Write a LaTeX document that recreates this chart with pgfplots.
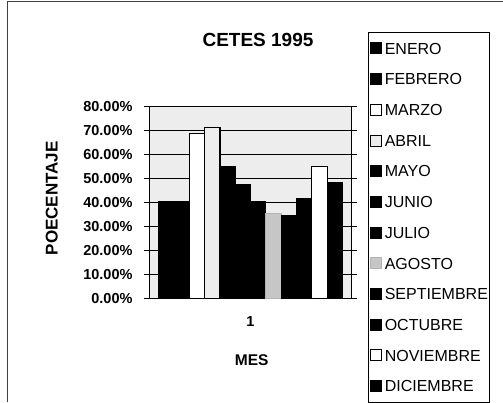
\documentclass[border=0pt]{standalone}
\usepackage{pgfplots}
\pgfplotsset{compat=1.18}
\usepackage{fontspec}
\setmainfont{Liberation Sans}
\begin{document}
\begin{tikzpicture}
\path[use as bounding box] (0pt,0pt) rectangle (503pt,-402pt);
\draw[black!75, line width=1pt] (7pt,-402pt) -- (7pt,-1.5pt) -- (503pt,-1.5pt);
\begin{axis}[
  at={(149.3pt,-298.3pt)}, anchor=south west,
  width=202.4pt, height=191.6pt, scale only axis,
  xmin=0, xmax=2, ymin=0, ymax=80,
  ybar=0pt, bar width=15.3pt,
  axis line style={line width=1pt},
  axis background/.style={fill=gray!14},
  ytick={0,10,...,80},
  yticklabels={0.00\%,10.00\%,20.00\%,30.00\%,40.00\%,50.00\%,60.00\%,70.00\%,80.00\%},
  ymajorgrids, major grid style={black, line width=0.8pt},
  tick align=outside, major tick length=5pt,
  tick style={black, line width=0.8pt},
  xtick={1}, xticklabels={1},
  xtick style={draw=none},
  extra x ticks={0,2}, extra x tick labels={},
  extra x tick style={tick style={draw=black}},
  ticklabel style={font=\bfseries\fontsize{14.5}{14.5}\selectfont},
  yticklabel style={inner sep=0pt, xshift=-11.6pt},
  xticklabel style={inner sep=0pt, yshift=-13pt},
  title={CETES 1995},
  title style={at={(axis description cs:0.537,1.3194)}, anchor=center, inner sep=0pt, font=\bfseries\fontsize{19}{19}\selectfont},
  ylabel={POECENTAJE},
  ylabel style={at={(axis description cs:-0.482,0.522)}, anchor=center, inner sep=0pt, font=\bfseries\fontsize{17}{17}\selectfont},
  xlabel={MES},
  xlabel style={at={(axis description cs:0.506,-0.322)}, anchor=center, inner sep=0pt, font=\bfseries\fontsize{15.5}{15.5}\selectfont},
  legend image code/.code={\draw[#1, line width=0.8pt] (0pt,-5.5pt) rectangle (11pt,5.5pt);},
  legend cell align=left,
  legend style={at={(axis description cs:1.0805,1.390)}, anchor=north west,
    draw=black, line width=1pt, inner xsep=2pt, inner ysep=10pt,
    row sep=18.9pt,
    font=\fontsize{16}{16}\selectfont,
    nodes={inner sep=0pt, text height=11.5pt, text depth=0pt},
    /tikz/every odd column/.append style={column sep=2.5pt}},
]
\addplot[fill=black, draw=black, line width=1pt] coordinates {(1,40.3)};
\addlegendentry{ENERO}
\addplot[fill=black, draw=black, line width=1pt] coordinates {(1,40.3)};
\addlegendentry{FEBRERO}
\addplot[fill=white, draw=black, line width=1pt] coordinates {(1,68.9)};
\addlegendentry{MARZO}
\addplot[fill=gray!14, draw=black, line width=1.6pt] coordinates {(1,71.4)};
\addlegendentry{ABRIL}
\addplot[fill=black, draw=black, line width=1pt] coordinates {(1,55.0)};
\addlegendentry{MAYO}
\addplot[fill=black, draw=black, line width=1pt] coordinates {(1,47.7)};
\addlegendentry{JUNIO}
\addplot[fill=black, draw=black, line width=1pt] coordinates {(1,40.3)};
\addlegendentry{JULIO}
\addplot[fill=gray!45, draw=gray!60, line width=1pt] coordinates {(1,35.5)};
\addlegendentry{AGOSTO}
\addplot[fill=black, draw=black, line width=1pt] coordinates {(1,34.6)};
\addlegendentry{SEPTIEMBRE}
\addplot[fill=black, draw=black, line width=1pt] coordinates {(1,41.8)};
\addlegendentry{OCTUBRE}
\addplot[fill=white, draw=black, line width=1pt] coordinates {(1,55.0)};
\addlegendentry{NOVIEMBRE}
\addplot[fill=black, draw=black, line width=1pt] coordinates {(1,48.4)};
\addlegendentry{DICIEMBRE}
\end{axis}
\end{tikzpicture}
\end{document}
